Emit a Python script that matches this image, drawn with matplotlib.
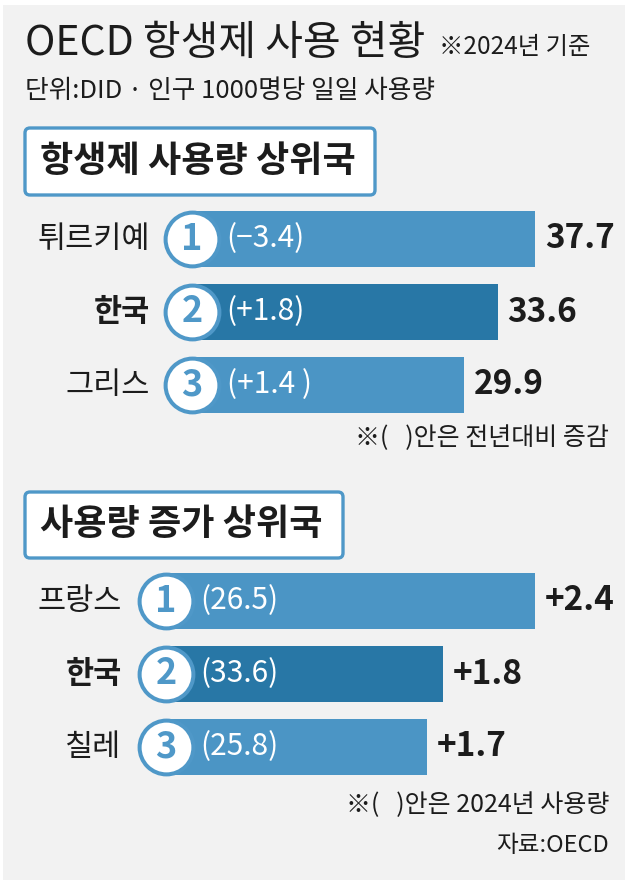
import matplotlib
matplotlib.use('Agg')
import matplotlib.pyplot as plt
from matplotlib.patches import Rectangle, FancyBboxPatch

plt.rcParams['font.family'] = ['Noto Sans CJK KR', 'DejaVu Sans']

# 데이터
top_countries = ['튀르키예', '한국', '그리스']
top_values = [37.7, 33.6, 29.9]
top_notes = ['(−3.4)', '(+1.8)', '(+1.4 )']

inc_countries = ['프랑스', '한국', '칠레']
inc_values = [2.4, 1.8, 1.7]
inc_notes = ['(26.5)', '(33.6)', '(25.8)']
ranks = ['1', '2', '3']

W, H = 632, 883
LIGHT = '#4b95c5'
DARK = '#2877a6'
RING = '#4f98c8'
INK = '#1c1c1c'
BG = '#f2f2f2'

fig = plt.figure(figsize=(W / 100, H / 100), dpi=100)
fig.patch.set_facecolor('white')

bg = fig.add_axes([0, 0, 1, 1])
bg.set_xlim(0, W)
bg.set_ylim(H, 0)
bg.axis('off')
bg.add_patch(Rectangle((3, 5), 622, 875, fc=BG, ec='none'))

# 제목
bg.text(25, 44, 'OECD 항생제 사용 현황', fontsize=29.5, color=INK, va='center', ha='left')
bg.text(439, 47, '※2024년 기준', fontsize=17.5, color=INK, va='center', ha='left')
bg.text(25, 91, '단위:DID · 인구 1000명당 일일 사용량', fontsize=18.5, color=INK, va='center', ha='left')


def title_box(x, y, w, h, text):
    bg.add_patch(FancyBboxPatch((x, y), w, h, boxstyle='round,pad=0,rounding_size=5',
                                fc='white', ec=RING, lw=2.4))
    bg.text(x + 15, y + h / 2, text, fontsize=26, fontweight='bold', color=INK,
            va='center', ha='left')


title_box(25, 128, 350, 67, '항생제 사용량 상위국')
title_box(25, 492, 318, 66, '사용량 증가 상위국')


def px_axes(x0, y0, x1, y1):
    return fig.add_axes([x0 / W, 1 - y1 / H, (x1 - x0) / W, (y1 - y0) / H])


def bar_section(ax, names, values, notes, xmax, label_off, val_fmt):
    rows = list(range(len(values)))
    colors = [DARK if n == '한국' else LIGHT for n in names]
    ax.barh(rows, values, height=0.767, color=colors, zorder=1)
    ax.scatter([0] * len(rows), rows, s=1500, c='white', edgecolors=RING,
               linewidths=2.9, zorder=3, clip_on=False)
    for i in rows:
        ax.annotate(ranks[i], xy=(0, i), ha='center', va='center', fontsize=26,
                    fontweight='bold', color=RING, zorder=4, annotation_clip=False)
        ax.annotate(notes[i], xy=(0, i), xytext=(25, 0), textcoords='offset points',
                    ha='left', va='center', fontsize=21.5, color='white', zorder=4)
        ax.annotate(names[i], xy=(0, i), xytext=(label_off, 0), textcoords='offset points',
                    ha='right', va='center', fontsize=22, color=INK,
                    fontweight='bold' if names[i] == '한국' else 'normal',
                    annotation_clip=False)
        ax.annotate(val_fmt(values[i]), xy=(values[i], i), xytext=(7, 0),
                    textcoords='offset points', ha='left', va='center',
                    fontsize=24, fontweight='bold', color=INK)
    ax.set_xlim(0, xmax)
    ax.set_ylim(len(rows) - 0.5, -0.5)
    ax.axis('off')


ax1 = px_axes(192, 202.5, 632, 421.5)
bar_section(ax1, top_countries, top_values, top_notes, 440 / 9.1, -30,
            lambda v: f'{v:.1f}')

ax2 = px_axes(166, 564.5, 632, 783.5)
bar_section(ax2, inc_countries, inc_values, inc_notes, 466 / 153.75, -32,
            lambda v: f'+{v:.1f}')

# 주석
bg.text(609, 438, '※(   )안은 전년대비 증감', fontsize=18, color=INK, va='center', ha='right')
bg.text(609, 805, '※(   )안은 2024년 사용량', fontsize=18, color=INK, va='center', ha='right')
bg.text(609, 845, '자료:OECD', fontsize=17, color=INK, va='center', ha='right')

fig.savefig('out.png', dpi=100, facecolor=fig.get_facecolor())
